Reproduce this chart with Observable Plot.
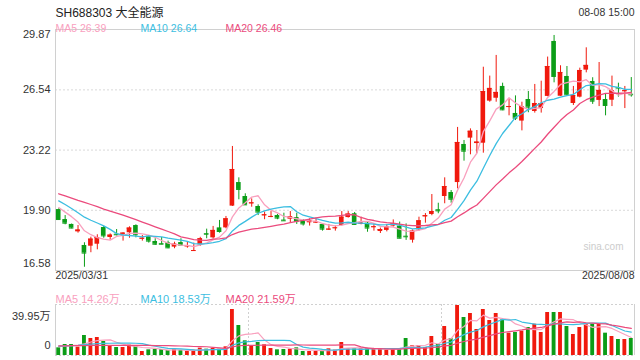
<!DOCTYPE html>
<html><head><meta charset="utf-8">
<script src="https://cdn.jsdelivr.net/npm/d3@7"></script>
<script src="https://cdn.jsdelivr.net/npm/@observablehq/plot@0.6"></script>
<style>
body{margin:0;background:#fff;}
#chart{position:relative;width:640px;height:360px;overflow:hidden;}
#chart svg{position:absolute;left:0;overflow:visible;}
</style></head><body><div id="chart"></div>
<script>
const title = "SH688303 大全能源";
const timeLabel = "08-08 15:00";
const dateLabels = ["2025/03/31", "2025/08/08"];
const watermark = "sina.com";

const open = [19.94,19.39,19.12,18.71,17.96,17.92,18.03,18.95,18.40,18.58,18.58,18.66,19.06,18.31,18.47,18.18,18.07,18.11,17.87,18.12,
17.89,17.65,18.00,18.62,18.38,18.93,18.93,20.13,21.43,20.66,20.26,20.11,19.60,19.52,19.61,19.36,19.41,19.50,19.30,19.21,
19.21,19.12,18.82,18.90,19.06,19.50,19.71,19.14,19.19,18.95,18.73,18.79,19.03,19.03,18.47,18.25,18.82,19.54,19.67,19.93,
20.66,20.88,21.43,23.53,23.88,23.58,23.60,25.92,26.08,26.73,25.57,25.24,24.82,26.01,25.35,25.51,26.18,29.21,26.19,27.28,
25.79,26.14,27.63,27.00,25.96,26.01,25.97,26.67,26.45,26.30];
const high = [19.98,19.61,19.14,19.06,18.11,18.42,18.55,19.01,18.60,18.84,18.66,18.99,19.10,18.51,18.51,18.33,18.40,18.20,18.14,18.33,
18.18,18.09,18.41,18.86,19.01,19.34,19.56,23.42,21.69,20.81,20.53,20.20,19.80,19.83,19.67,19.74,19.83,19.74,19.38,19.43,
19.47,19.15,19.12,19.04,19.83,19.83,19.78,19.52,19.23,19.15,18.92,19.12,19.37,19.25,19.15,18.82,19.52,19.72,20.77,20.29,
21.69,20.99,24.47,23.75,24.39,24.30,27.79,27.30,28.44,26.91,26.01,26.21,25.86,26.45,26.84,27.02,28.35,29.54,27.87,27.83,
26.73,27.74,28.86,27.21,28.05,26.32,27.30,26.91,26.73,27.22];
const low = [19.36,19.10,18.88,18.64,16.76,17.56,17.72,18.36,18.25,18.49,18.20,18.36,18.38,18.20,18.09,17.96,18.00,17.78,17.78,17.96,
17.81,17.63,17.91,18.33,18.31,18.64,18.88,20.11,20.48,20.17,20.07,19.61,19.38,19.49,19.38,19.30,19.21,19.12,19.03,19.03,
19.17,18.75,18.79,18.75,19.03,19.47,19.08,19.10,18.69,18.75,18.62,18.71,18.97,18.33,18.24,18.09,18.75,19.19,19.60,19.71,
20.26,20.29,21.08,22.61,22.96,23.03,23.05,25.86,25.86,25.39,25.11,24.85,24.28,25.28,25.26,25.26,26.16,26.93,26.18,26.19,
25.68,26.10,27.48,25.74,25.62,25.11,25.62,26.14,25.51,26.14];
const close = [19.39,19.19,18.92,18.81,17.54,18.31,18.40,18.49,18.53,18.55,18.64,18.92,18.55,18.36,18.20,18.03,18.03,17.83,18.03,17.98,
17.94,17.68,18.33,18.58,18.79,18.73,19.43,22.15,21.05,20.20,20.31,19.80,19.65,19.56,19.47,19.32,19.54,19.28,19.15,19.32,
19.25,18.86,18.86,18.93,19.52,19.69,19.12,19.19,18.92,18.99,18.84,18.99,19.15,18.36,18.44,18.75,19.32,19.60,19.83,19.87,
21.21,20.51,23.64,23.16,24.26,23.66,26.45,26.62,26.40,25.44,25.62,24.98,25.62,25.59,25.79,25.79,27.83,27.28,27.50,26.27,
26.23,27.61,27.89,25.92,26.51,25.68,26.49,26.64,26.49,26.27];
// volume in 万 shares
const volume = [6.01,8.62,8.62,6.53,15.67,13.32,14.10,10.97,7.05,6.27,6.27,8.09,7.57,3.13,4.44,4.70,4.70,3.92,4.70,3.92,
3.13,4.18,5.74,4.96,5.48,4.96,6.79,36.03,23.50,11.49,7.05,10.18,8.36,5.48,4.44,4.70,4.96,6.01,3.13,3.13,
3.13,3.92,5.22,4.18,10.18,5.22,5.22,5.22,5.22,5.22,4.96,4.18,5.22,5.22,13.32,7.57,7.83,6.27,14.88,8.62,
22.72,13.32,39.17,29.77,32.90,20.37,36.03,27.42,32.90,27.94,17.49,18.02,19.06,21.93,24.54,18.02,33.68,33.68,33.68,22.72,
16.45,21.93,24.54,24.54,24.54,17.49,14.88,12.53,12.53,13.32];

// moving-average values before each window is full (window starts before 03/31)
const ma5Head = [20.05,19.80,19.55,19.25];
const ma10Head = [20.42,20.22,20.00,19.76,19.52,19.35,19.20,19.04,18.85];
const ma20Head = [20.81,20.69,20.57,20.45,20.34,20.22,20.10,19.97,19.86,19.75,19.63,19.51,19.38,19.25,19.12,18.99,18.86,18.73,18.60];
const vma5Head = [7.0,7.4,7.8,8.2];
const vma10Head = [7.3,7.5,7.8,8.0,8.5,8.9,9.3,9.5,9.6];
const vma20Head = [7.6,7.6,7.7,7.7,7.8,7.9,8.0,8.0,8.0,8.0,8.0,8.0,8.0,7.9,7.9,7.8,7.8,7.7,7.6];

const maNames = ["MA5","MA10","MA20"];
const maPeriods = [5,10,20];
const priceMaLegend = ["26.39","26.64","26.46"];
const volMaLegend = ["14.26万","18.53万","21.59万"];
const priceTicks = [16.58,19.90,23.22,26.54,29.87];
const volTicks = [0,39.95];
const volTickLabels = ["0","39.95万"];

const UP = "#f0190d", DOWN = "#0b9d17";
const maColors = ["#f9a0be","#3cbee1","#eb4b7d"];
const FONT = '"Liberation Sans", Arial, "Noto Sans CJK SC", sans-serif';

function movingAvg(values, k, head) {
  return values.map((v, i) => i < k - 1 ? head[i] : d3.mean(values.slice(i - k + 1, i + 1)));
}
const candles = close.map((c, i) => ({i, open: open[i], high: high[i], low: low[i], close: c, volume: volume[i], up: c >= open[i]}));
const priceHeads = [ma5Head, ma10Head, ma20Head];
const volHeads = [vma5Head, vma10Head, vma20Head];
const priceMA = maPeriods.map((k, j) => movingAvg(close, k, priceHeads[j]).map((v, i) => ({i, v})));
const volMA = maPeriods.map((k, j) => movingAvg(volume, k, volHeads[j]).map((v, i) => ({i, v})));
const col = d => d.up ? UP : DOWN;
const xDomain = [-0.5, close.length - 0.5];
const W = 640;

const main = Plot.plot({
  width: W, height: 285,
  marginLeft: 55, marginRight: 6, marginTop: 29, marginBottom: 15,
  x: {domain: xDomain, axis: null},
  y: {domain: [priceTicks[0], priceTicks[priceTicks.length - 1]], axis: null},
  style: {fontFamily: FONT, background: "transparent"},
  marks: [
    Plot.ruleY(priceTicks.slice(1, -1), {stroke: "#d9d9d9", strokeDasharray: "2,2"}),
    Plot.frame({stroke: "#d0d0d0"}),
    Plot.text([watermark], {frameAnchor: "bottom-right", dx: -11, dy: -21, textAnchor: "end", fill: "#cccccc", fontSize: 10}),
    Plot.ruleX(candles, {x: "i", y1: "low", y2: "high", stroke: col, strokeWidth: 1}),
    Plot.rect(candles, {x1: d => d.i - 0.36, x2: d => d.i + 0.36, y1: "open", y2: "close", fill: col}),
    Plot.ruleY(candles, {y: "close", x1: d => d.i - 0.36, x2: d => d.i + 0.36, stroke: col, strokeWidth: 1}),
    ...priceMA.map((s, j) => Plot.line(s, {x: "i", y: "v", stroke: maColors[j], strokeWidth: 1.3})),
    // y tick labels
    Plot.text([priceTicks[priceTicks.length - 1]], {y: d => d, frameAnchor: "left", dx: -5, dy: 5, textAnchor: "end", text: d => d.toFixed(2), fill: "#333", fontSize: 11}),
    Plot.text(priceTicks.slice(1, -1), {y: d => d, frameAnchor: "left", dx: -5, textAnchor: "end", text: d => d.toFixed(2), fill: "#333", fontSize: 11}),
    Plot.text([priceTicks[0]], {y: d => d, frameAnchor: "left", dx: -5, dy: -7, textAnchor: "end", text: d => d.toFixed(2), fill: "#333", fontSize: 11}),
    // title, time, legends, dates
    Plot.text([title], {frameAnchor: "top-left", dy: -21, textAnchor: "start", fill: "#222", fontSize: 12}),
    Plot.text([timeLabel], {frameAnchor: "top-right", dy: -21, textAnchor: "end", fill: "#333", fontSize: 10.5}),
    ...maNames.map((n, j) => Plot.text([`${n} ${priceMaLegend[j]}`], {frameAnchor: "top-left", dx: j * 85, dy: -5, textAnchor: "start", fill: maColors[j], fontSize: 10.5})),
    Plot.text([dateLabels[0]], {frameAnchor: "bottom-left", dy: 8, textAnchor: "start", fill: "#333", fontSize: 10.5}),
    Plot.text([dateLabels[1]], {frameAnchor: "bottom-right", dy: 8, textAnchor: "end", fill: "#333", fontSize: 10.5})
  ]
});
main.style.top = "0px";

const vol = Plot.plot({
  width: W, height: 75,
  marginLeft: 55, marginRight: 6, marginTop: 19, marginBottom: 5,
  x: {domain: xDomain, axis: null},
  y: {domain: volTicks, axis: null},
  style: {fontFamily: FONT, background: "transparent"},
  marks: [
    Plot.ruleY(volTicks, {stroke: "#d0d0d0", strokeDasharray: "2,2"}),
    Plot.ruleX(xDomain, {stroke: "#d0d0d0"}),
    Plot.ruleX([xDomain[0] + (xDomain[1] - xDomain[0]) / 3, xDomain[0] + 2 * (xDomain[1] - xDomain[0]) / 3], {stroke: "#d0d0d0", strokeDasharray: "2,2"}),
    Plot.rect(candles, {x1: d => d.i - 0.3, x2: d => d.i + 0.3, y1: 0, y2: "volume", fill: col}),
    ...volMA.map((s, j) => Plot.line(s, {x: "i", y: "v", stroke: maColors[j], strokeWidth: 1.2})),
    Plot.text([volTickLabels[1]], {frameAnchor: "top-left", dx: -5, dy: 8, textAnchor: "end", fill: "#333", fontSize: 11}),
    Plot.text([volTickLabels[0]], {frameAnchor: "bottom-left", dx: -5, dy: -7, textAnchor: "end", fill: "#333", fontSize: 11}),
    ...maNames.map((n, j) => Plot.text([`${n} ${volMaLegend[j]}`], {frameAnchor: "top-left", dx: j * 85, dy: -9, textAnchor: "start", fill: maColors[j], fontSize: 11}))
  ]
});
vol.style.top = "285px";

const root = document.getElementById("chart");
root.appendChild(main);
root.appendChild(vol);
</script>
</body></html>
